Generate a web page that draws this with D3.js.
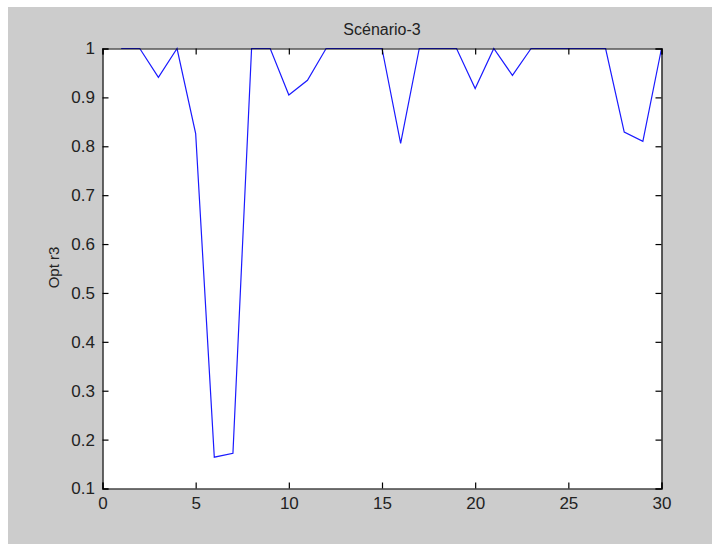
<!DOCTYPE html>
<html>
<head>
<meta charset="utf-8">
<script src="https://cdn.jsdelivr.net/npm/d3@7"></script>
<style>
  html, body { margin: 0; padding: 0; background: #ffffff; }
  svg { display: block; }
  text { font-family: "Liberation Sans", Arial, sans-serif; fill: #222222; }
</style>
</head>
<body>
<script>
// Scenario 3: optimal r3 per run
const runs = d3.range(1, 31);
const optR3 = [
  1, 1, 0.941, 1, 0.826, 0.164, 0.172, 1, 1, 0.905,
  0.935, 1, 1, 1, 1, 0.806, 1, 1, 1, 0.918,
  1, 0.945, 1, 1, 1, 1, 1, 0.829, 0.810, 1
];
const xTicks = [0, 5, 10, 15, 20, 25, 30];
const yTicks = [0.1, 0.2, 0.3, 0.4, 0.5, 0.6, 0.7, 0.8, 0.9, 1];
const titleText = "Scénario-3";
const yLabelText = "Opt r3";

const W = 712, H = 544;
const plot = { left: 102.5, right: 661.5, top: 48.5, bottom: 488.5 };

const svg = d3.select("body").append("svg")
  .attr("width", W).attr("height", H);

// figure background
svg.append("rect").attr("x", 8).attr("y", 7)
  .attr("width", W - 8).attr("height", H - 7)
  .attr("fill", "#cccccc");

const x = d3.scaleLinear().domain([0, 30]).range([plot.left, plot.right]);
const y = d3.scaleLinear().domain([0.1, 1]).range([plot.bottom, plot.top]);

// axes area
svg.append("rect")
  .attr("x", plot.left).attr("y", plot.top)
  .attr("width", plot.right - plot.left).attr("height", plot.bottom - plot.top)
  .attr("fill", "#ffffff");

// data line
const line = d3.line().x((d, i) => x(runs[i])).y(d => y(d));
svg.append("path").datum(optR3)
  .attr("d", line)
  .attr("fill", "none")
  .attr("stroke", "#1a1aff")
  .attr("stroke-width", 1.2)
  .attr("stroke-linejoin", "miter");

const tickLen = 6;
const fmtY = d => d === 1 ? "1" : d3.format(".1f")(d);

// bottom axis with inward ticks
const axBottom = svg.append("g").attr("transform", `translate(0,${plot.bottom})`)
  .call(d3.axisBottom(x).tickValues(xTicks).tickSize(-tickLen).tickPadding(8).tickFormat(d3.format("d")));
// top axis (ticks only)
const axTop = svg.append("g").attr("transform", `translate(0,${plot.top})`)
  .call(d3.axisTop(x).tickValues(xTicks).tickSize(-tickLen).tickFormat(""));
// left axis with labels
const axLeft = svg.append("g").attr("transform", `translate(${plot.left},0)`)
  .call(d3.axisLeft(y).tickValues(yTicks).tickSize(-tickLen).tickPadding(7.5).tickFormat(fmtY));
// right axis (ticks only)
const axRight = svg.append("g").attr("transform", `translate(${plot.right},0)`)
  .call(d3.axisRight(y).tickValues(yTicks).tickSize(-tickLen).tickFormat(""));

[axBottom, axTop, axLeft, axRight].forEach(g => {
  g.select(".domain").attr("stroke", "#000000").attr("stroke-width", 1.2);
  g.selectAll(".tick line").attr("stroke", "#000000").attr("stroke-width", 1.2);
  g.selectAll(".tick text")
    .attr("fill", "#222222")
    .style("font-family", "'Liberation Sans', Arial, sans-serif")
    .style("font-size", "17px");
});

// title
svg.append("text")
  .attr("x", (plot.left + plot.right) / 2).attr("y", 35)
  .attr("text-anchor", "middle")
  .style("font-size", "16px")
  .text(titleText);

// y axis label
svg.append("text")
  .attr("transform", `translate(59,${(plot.top + plot.bottom) / 2 - 1}) rotate(-90)`)
  .attr("text-anchor", "middle")
  .style("font-size", "15px")
  .text(yLabelText);
</script>
</body>
</html>
